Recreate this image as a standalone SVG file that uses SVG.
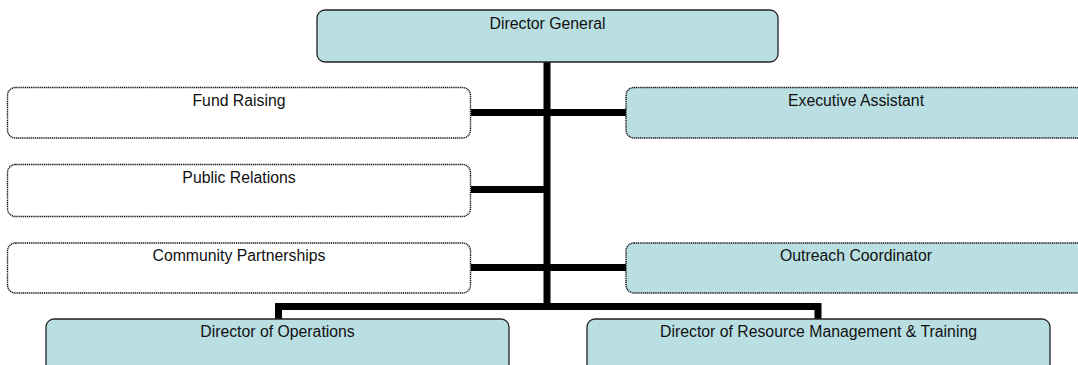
<svg xmlns="http://www.w3.org/2000/svg" width="1078" height="365" viewBox="0 0 1078 365">
  <style>
    .box { stroke: #222; stroke-width: 1.3; }
    .staff { fill: #ffffff; stroke: #111; stroke-width: 1.4; stroke-dasharray: 1.2 0.7; }
    .staff.blue { fill: #b9dfe2; }
    .line { fill: #b9dfe2; }
    .label { font-family: "Liberation Sans", Arial, sans-serif; font-size: 15.8px; fill: #111; text-anchor: middle; }
    .conn { stroke: #000; stroke-width: 7; fill: none; stroke-linecap: butt; stroke-linejoin: miter; }
  </style>

  <!-- connectors -->
  <g id="connectors">
    <line class="conn" x1="547" y1="62" x2="547" y2="310"/>
    <line class="conn" x1="471" y1="112.5" x2="626" y2="112.5"/>
    <line class="conn" x1="471" y1="189.5" x2="547" y2="189.5"/>
    <line class="conn" x1="471" y1="267.5" x2="626" y2="267.5"/>
    <polyline class="conn" points="278.5,319 278.5,306.5 818,306.5 818,319"/>
  </g>

  <g id="director-general">
    <rect class="box line" x="317" y="10" width="461" height="52" rx="8"/>
    <text class="label" x="547.5" y="28.5">Director General</text>
  </g>

  <g id="fund-raising">
    <rect class="staff" x="7.5" y="87.5" width="463" height="50.5" rx="8"/>
    <text class="label" x="239" y="106">Fund Raising</text>
  </g>

  <g id="executive-assistant">
    <rect class="staff blue" x="626" y="87.5" width="460" height="50.5" rx="8"/>
    <text class="label" x="856" y="106">Executive Assistant</text>
  </g>

  <g id="public-relations">
    <rect class="staff" x="7.5" y="164.5" width="463" height="52" rx="8"/>
    <text class="label" x="239" y="183">Public Relations</text>
  </g>

  <g id="community-partnerships">
    <rect class="staff" x="7.5" y="243" width="463" height="50" rx="8"/>
    <text class="label" x="239" y="261">Community Partnerships</text>
  </g>

  <g id="outreach-coordinator">
    <rect class="staff blue" x="626" y="243" width="460" height="50" rx="8"/>
    <text class="label" x="856" y="261">Outreach Coordinator</text>
  </g>

  <g id="director-operations">
    <rect class="box line" x="46" y="319" width="463" height="60" rx="8"/>
    <text class="label" x="277.5" y="337">Director of Operations</text>
  </g>

  <g id="director-resource-management">
    <rect class="box line" x="587" y="319" width="463" height="60" rx="8"/>
    <text class="label" x="818.5" y="337">Director of Resource Management &amp; Training</text>
  </g>
</svg>
